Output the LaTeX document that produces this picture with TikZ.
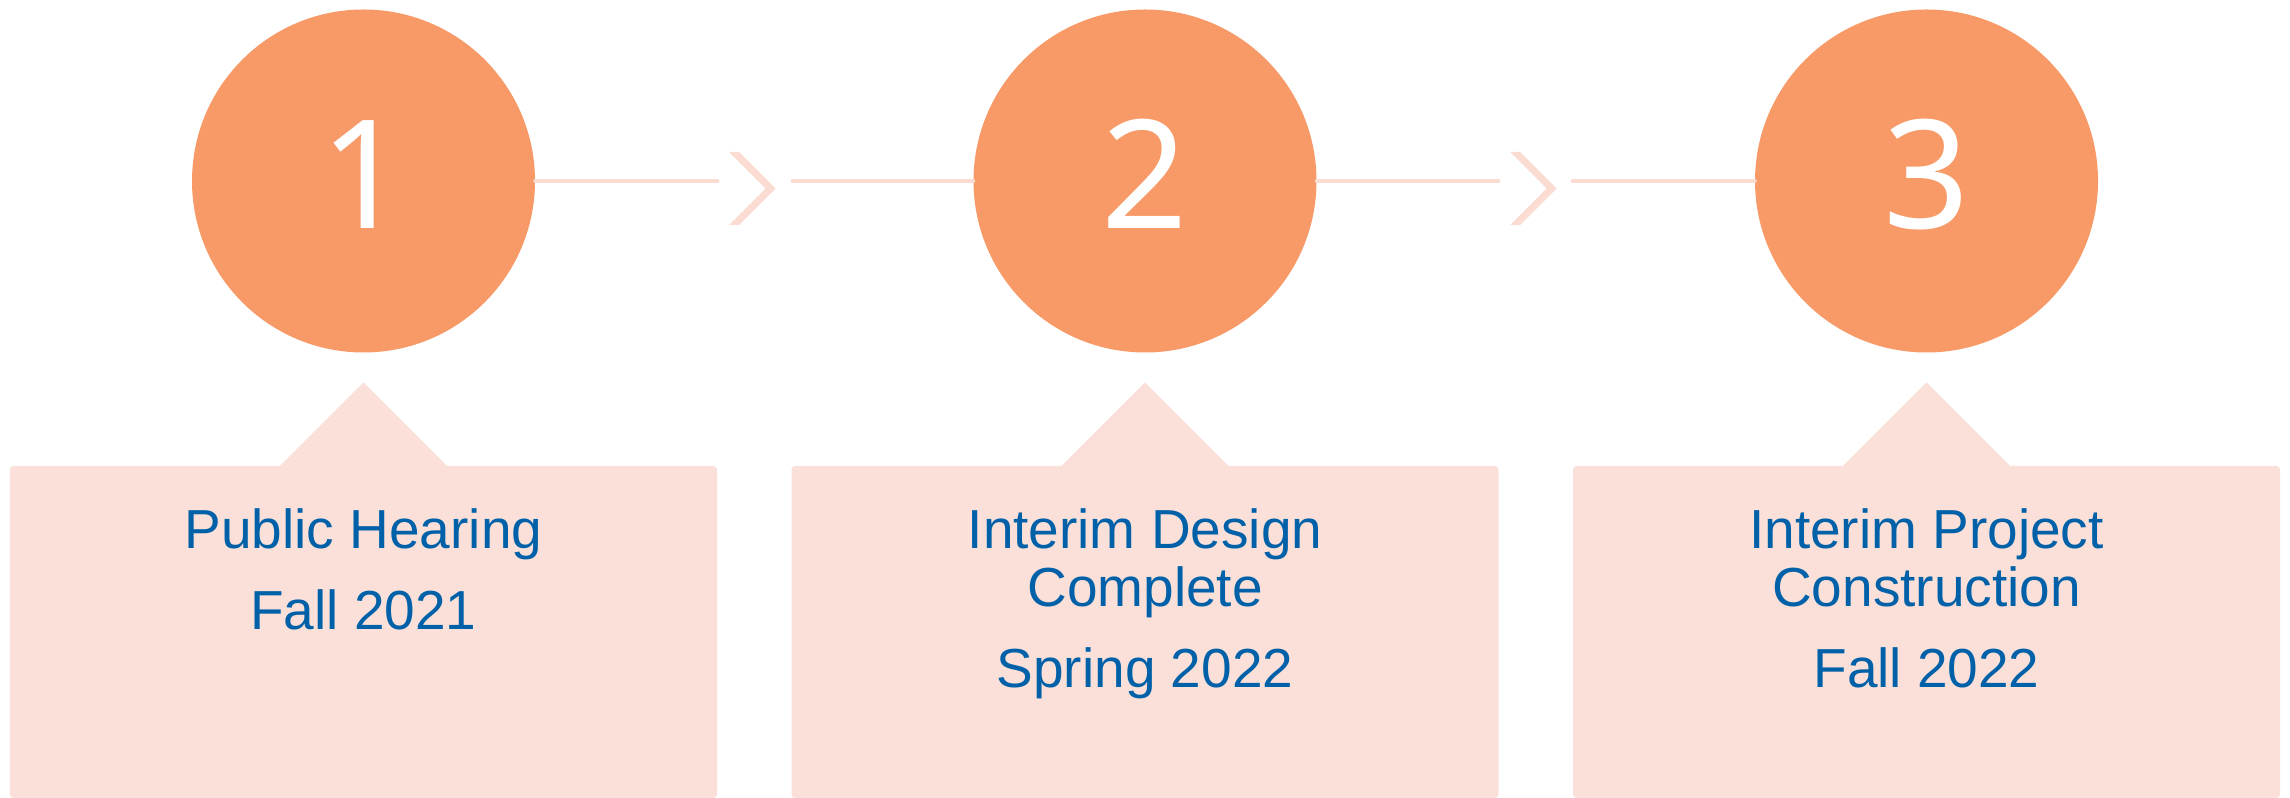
\documentclass[tikz,border=0pt]{standalone}
\usepackage{xcolor}
\usepackage{fontspec}
\setmainfont{Liberation Sans}
\newfontfamily\digitfont{Noto Sans}
\usetikzlibrary{shapes,arrows}
\definecolor{stepor}{HTML}{F79A68}
\definecolor{boxpink}{HTML}{FAE0D8}
\definecolor{linkpink}{HTML}{FBDCD2}
\definecolor{textblue}{HTML}{0061A9}
\tikzstyle{stepcircle} = [circle, fill=stepor, text=white, minimum size=3.43cm, inner sep=0pt, font=\digitfont\fontsize{43}{44}\selectfont, text height=1.15cm, text depth=0.19cm]
\tikzstyle{infobox} = [rectangle, fill=boxpink, rounded corners=1pt, minimum width=7.07cm, minimum height=3.32cm, inner sep=0pt]
\tikzstyle{pointer} = [fill=boxpink]
\tikzstyle{boxtext} = [text=textblue, font=\fontsize{15.65}{16.5}\selectfont, anchor=base, inner sep=0pt]
\tikzstyle{link} = [draw=linkpink, line width=1.4pt, line cap=round]
\tikzstyle{chev} = [fill=linkpink]

\begin{document}
\begin{tikzpicture}
\useasboundingbox (0,0) rectangle (22.9,-7.98);

\node [stepcircle] (c1) at (3.635,-1.81) {1};
\node [stepcircle] (c2) at (11.45,-1.81) {2};
\node [stepcircle] (c3) at (19.265,-1.81) {3};

\coordinate (e1) at (7.17,-1.81);
\coordinate (s2) at (7.93,-1.81);
\coordinate (e2) at (14.98,-1.81);
\coordinate (s3) at (15.73,-1.81);
\path [link] (c1) -- (e1);
\path [link] (s2) -- (c2);
\path [link] (c2) -- (e2);
\path [link] (s3) -- (c3);

\coordinate (ch1) at (7.29,-1.885);
\coordinate (ch2) at (15.10,-1.885);
\fill [chev] (ch1) ++(0,0.365) -- ++(0.10,0) -- ++(0.365,-0.365) -- ++(-0.365,-0.365) -- ++(-0.10,0) -- ++(0.365,0.365) -- cycle;
\fill [chev] (ch2) ++(0,0.365) -- ++(0.10,0) -- ++(0.365,-0.365) -- ++(-0.365,-0.365) -- ++(-0.10,0) -- ++(0.365,0.365) -- cycle;

\node [infobox] (b1) at (3.635,-6.32) {};
\node [infobox] (b2) at (11.45,-6.32) {};
\node [infobox] (b3) at (19.265,-6.32) {};
\fill [pointer] ([shift={(-0.85,-0.02)}]b1.north) -- ([yshift=0.83cm]b1.north) -- ([shift={(0.85,-0.02)}]b1.north) -- cycle;
\fill [pointer] ([shift={(-0.85,-0.02)}]b2.north) -- ([yshift=0.83cm]b2.north) -- ([shift={(0.85,-0.02)}]b2.north) -- cycle;
\fill [pointer] ([shift={(-0.85,-0.02)}]b3.north) -- ([yshift=0.83cm]b3.north) -- ([shift={(0.85,-0.02)}]b3.north) -- cycle;

\node [boxtext] (t1) at (3.635,-5.49) {Public Hearing};
\node [boxtext] (d1) at (3.635,-6.30) {Fall 2021};

\node [boxtext] (t2) at (11.45,-5.49) {Interim Design};
\node [boxtext] (u2) at (11.45,-6.07) {Complete};
\node [boxtext] (d2) at (11.45,-6.88) {Spring 2022};

\node [boxtext] (t3) at (19.265,-5.49) {Interim Project};
\node [boxtext] (u3) at (19.265,-6.07) {Construction};
\node [boxtext] (d3) at (19.265,-6.88) {Fall 2022};
\end{tikzpicture}
\end{document}
